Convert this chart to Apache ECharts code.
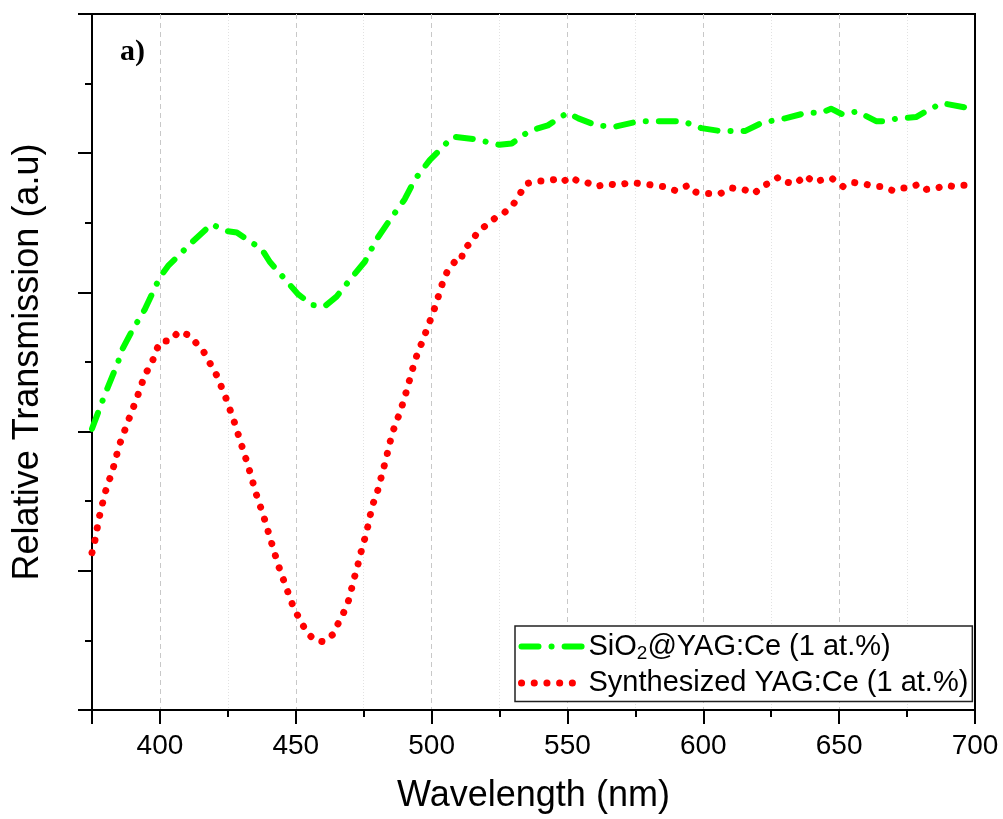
<!DOCTYPE html>
<html>
<head>
<meta charset="utf-8">
<script src="https://cdn.jsdelivr.net/npm/echarts@6/dist/echarts.min.js"></script>
<style>
html,body{margin:0;padding:0;background:#fff;}
#chart{width:1003px;height:819px;}
</style>
</head>
<body>
<div id="chart"></div>
<script>
// ---- Data ----
const greenName = 'SiO2@YAG:Ce (1 at.%)';
const redName = 'Synthesized YAG:Ce (1 at.%)';

const greenX = [375, 379.8, 384.6, 386.1, 389.6, 394.5, 400, 403, 411.8, 419, 424.5, 428.3, 437.5, 440.4, 450.7, 455.9, 460.7, 465, 469.9, 475.4, 479.7, 484.6, 490.1, 493.8, 499.3, 504.4, 507.7, 516.1, 525, 529.5, 536, 542.8, 550, 554, 560.7, 567.3, 576.5, 583.8, 592.3, 599.3, 605.9, 615.5, 621.7, 630.1, 637.9, 643.4, 647, 651.1, 656.6, 663.6, 666.5, 671.7, 678.3, 683.8, 687.9, 696, 700];
const greenY = [2.02, 2.27, 2.50, 2.59, 2.72, 2.88, 3.11, 3.19, 3.36, 3.49, 3.44, 3.43, 3.31, 3.22, 2.99, 2.91, 2.90, 2.97, 3.09, 3.22, 3.38, 3.52, 3.67, 3.81, 3.95, 4.05, 4.12, 4.10, 4.06, 4.07, 4.16, 4.20, 4.29, 4.25, 4.20, 4.19, 4.23, 4.23, 4.23, 4.18, 4.16, 4.16, 4.22, 4.25, 4.29, 4.29, 4.32, 4.28, 4.30, 4.23, 4.23, 4.25, 4.26, 4.32, 4.36, 4.33, 4.32];

const redX = [375, 376, 377.6, 379.8, 382.7, 385, 388.2, 391.5, 394.5, 397, 398.5, 400.4, 403.7, 407, 411, 416.2, 421, 424.3, 427.2, 430.1, 432.7, 435.3, 438.2, 440.8, 443.4, 446.3, 449.3, 454, 457, 460.3, 463.5, 465.3, 467.4, 469.2, 470.4, 471.4, 472.7, 473.8, 475.1, 476.2, 477.2, 478.2, 479.8, 481, 482.1, 483.3, 484.4, 485.4, 486.8, 488.6, 489.8, 491.2, 492.4, 493.6, 495.1, 496.9, 498.3, 500.1, 501.7, 502.9, 504.4, 506, 508.5, 510.7, 511.8, 514.6, 516.8, 519.9, 523.1, 526.6, 530, 532.6, 534.6, 538.5, 541.6, 545, 548, 551, 553.8, 557.1, 560.5, 564.8, 568.9, 573, 577.4, 581.6, 585.5, 590, 594.5, 597.3, 601.8, 606.2, 610.4, 614.8, 618.8, 621.4, 624.8, 627.9, 631.2, 634, 637.5, 640.8, 643.8, 647.3, 651.5, 655.1, 659.2, 663.1, 665.9, 669.9, 673.3, 676, 679.4, 682.2, 686.1, 689.4, 692.3, 695.3, 699, 700];
const redY = [1.13, 1.21, 1.38, 1.56, 1.73, 1.90, 2.07, 2.24, 2.41, 2.49, 2.58, 2.65, 2.65, 2.72, 2.69, 2.57, 2.40, 2.24, 2.08, 1.90, 1.74, 1.56, 1.39, 1.22, 1.05, 0.89, 0.73, 0.56, 0.50, 0.49, 0.54, 0.61, 0.69, 0.77, 0.86, 0.94, 1.03, 1.12, 1.21, 1.29, 1.38, 1.47, 1.55, 1.64, 1.72, 1.81, 1.90, 1.98, 2.06, 2.15, 2.23, 2.32, 2.41, 2.49, 2.58, 2.66, 2.74, 2.83, 2.92, 3.00, 3.09, 3.16, 3.22, 3.22, 3.31, 3.36, 3.43, 3.48, 3.53, 3.57, 3.63, 3.71, 3.78, 3.80, 3.80, 3.81, 3.79, 3.83, 3.80, 3.79, 3.76, 3.78, 3.77, 3.79, 3.78, 3.77, 3.76, 3.73, 3.77, 3.72, 3.71, 3.71, 3.75, 3.74, 3.71, 3.76, 3.79, 3.83, 3.79, 3.78, 3.84, 3.79, 3.81, 3.82, 3.76, 3.79, 3.78, 3.76, 3.76, 3.73, 3.75, 3.75, 3.78, 3.74, 3.75, 3.77, 3.76, 3.77, 3.77, 3.77];

const xMin = 375, xMax = 700;
const yMin = 0, yMax = 5, yStep = 1;
const xTitle = 'Wavelength (nm)';
const yTitle = 'Relative Transmission (a.u)';
const panelLabel = 'a)';

function zip(xs, ys) { return xs.map((x, i) => [x, ys[i]]); }

const chart = echarts.init(document.getElementById('chart'), null, {renderer: 'canvas'});
const sans = 'Liberation Sans, Arial, sans-serif';

chart.setOption({
  backgroundColor: '#fff',
  animation: false,
  title: {
    text: panelLabel,
    left: 115, top: 32,
    textStyle: {fontFamily: 'Liberation Serif, Times New Roman, serif', fontWeight: 'bold', fontSize: 30, color: '#000'}
  },
  grid: {
    left: 92, right: 28, top: 14, bottom: 108,
    show: true, borderColor: '#000', borderWidth: 2, backgroundColor: 'transparent'
  },
  legend: {
    orient: 'vertical',
    left: 515, top: 626,
    padding: [6, 4, 4, 3],
    itemGap: 5,
    itemWidth: 62, itemHeight: 14,
    borderColor: '#222', borderWidth: 1.5, borderRadius: 0,
    backgroundColor: '#fff',
    itemStyle: {color: 'rgba(0,0,0,0)', borderWidth: 0},
    textStyle: {
      fontFamily: sans, fontSize: 29, color: '#000',
      rich: {
        a: {fontFamily: sans, fontSize: 29, color: '#000'},
        sub: {fontFamily: sans, fontSize: 19, color: '#000', verticalAlign: 'bottom', padding: [15, 0, 0, 0]}
      }
    },
    formatter: function (name) {
      if (name === greenName) return '{a|SiO}{sub|2}{a|@YAG:Ce (1 at.%)}';
      return '{a|' + name + '}';
    },
    data: [
      {name: greenName, lineStyle: {width: 6}},
      {name: redName, lineStyle: {width: 7}}
    ]
  },
  xAxis: {
    type: 'value',
    min: xMin, max: xMax,
    splitNumber: 6,
    name: xTitle, nameLocation: 'middle', nameGap: 68,
    nameTextStyle: {fontFamily: sans, fontSize: 36, color: '#000'},
    axisLine: {show: true, onZero: false, lineStyle: {color: '#000', width: 2}},
    axisTick: {show: true, inside: false, length: 14, lineStyle: {color: '#000', width: 2}},
    minorTick: {show: true, splitNumber: 2, length: 7, lineStyle: {color: '#000', width: 2}},
    axisLabel: {showMinLabel: false, margin: 22, fontFamily: sans, fontSize: 28, color: '#000'},
    splitLine: {show: true, lineStyle: {color: '#c8c8c8', width: 1, type: [5, 4]}},
    minorSplitLine: {show: true, lineStyle: {color: '#e2e2e2', width: 1, type: [1, 2]}}
  },
  yAxis: [
    {
      type: 'value',
      min: yMin, max: yMax, interval: yStep,
      name: yTitle, nameLocation: 'middle', nameGap: 46,
      nameTextStyle: {fontFamily: sans, fontSize: 36, color: '#000'},
      axisLine: {show: true, onZero: false, lineStyle: {color: '#000', width: 2}},
      axisTick: {show: true, inside: false, length: 14, lineStyle: {color: '#000', width: 2}},
      minorTick: {show: true, splitNumber: 2, length: 7, lineStyle: {color: '#000', width: 2}},
      axisLabel: {show: false},
      splitLine: {show: false}
    },
    {
      type: 'value',
      position: 'right',
      min: yMin, max: yMax, interval: yStep,
      axisLine: {show: true, onZero: false, lineStyle: {color: '#000', width: 2}},
      axisTick: {show: false},
      axisLabel: {show: false},
      splitLine: {show: false}
    }
  ],
  series: [
    {
      name: greenName,
      type: 'line',
      data: zip(greenX, greenY),
      symbol: 'none',
      smooth: false,
      z: 3,
      color: '#00ff00',
      lineStyle: {color: '#00ff00', width: 6, type: [17, 13, 0.1, 13], cap: 'round', join: 'round'}
    },
    {
      name: redName,
      type: 'line',
      data: zip(redX, redY),
      symbol: 'none',
      smooth: false,
      z: 2,
      color: '#ff0000',
      lineStyle: {color: '#ff0000', width: 7, type: [0.1, 12.6], cap: 'round', join: 'round'}
    }
  ]
});
</script>
</body>
</html>
